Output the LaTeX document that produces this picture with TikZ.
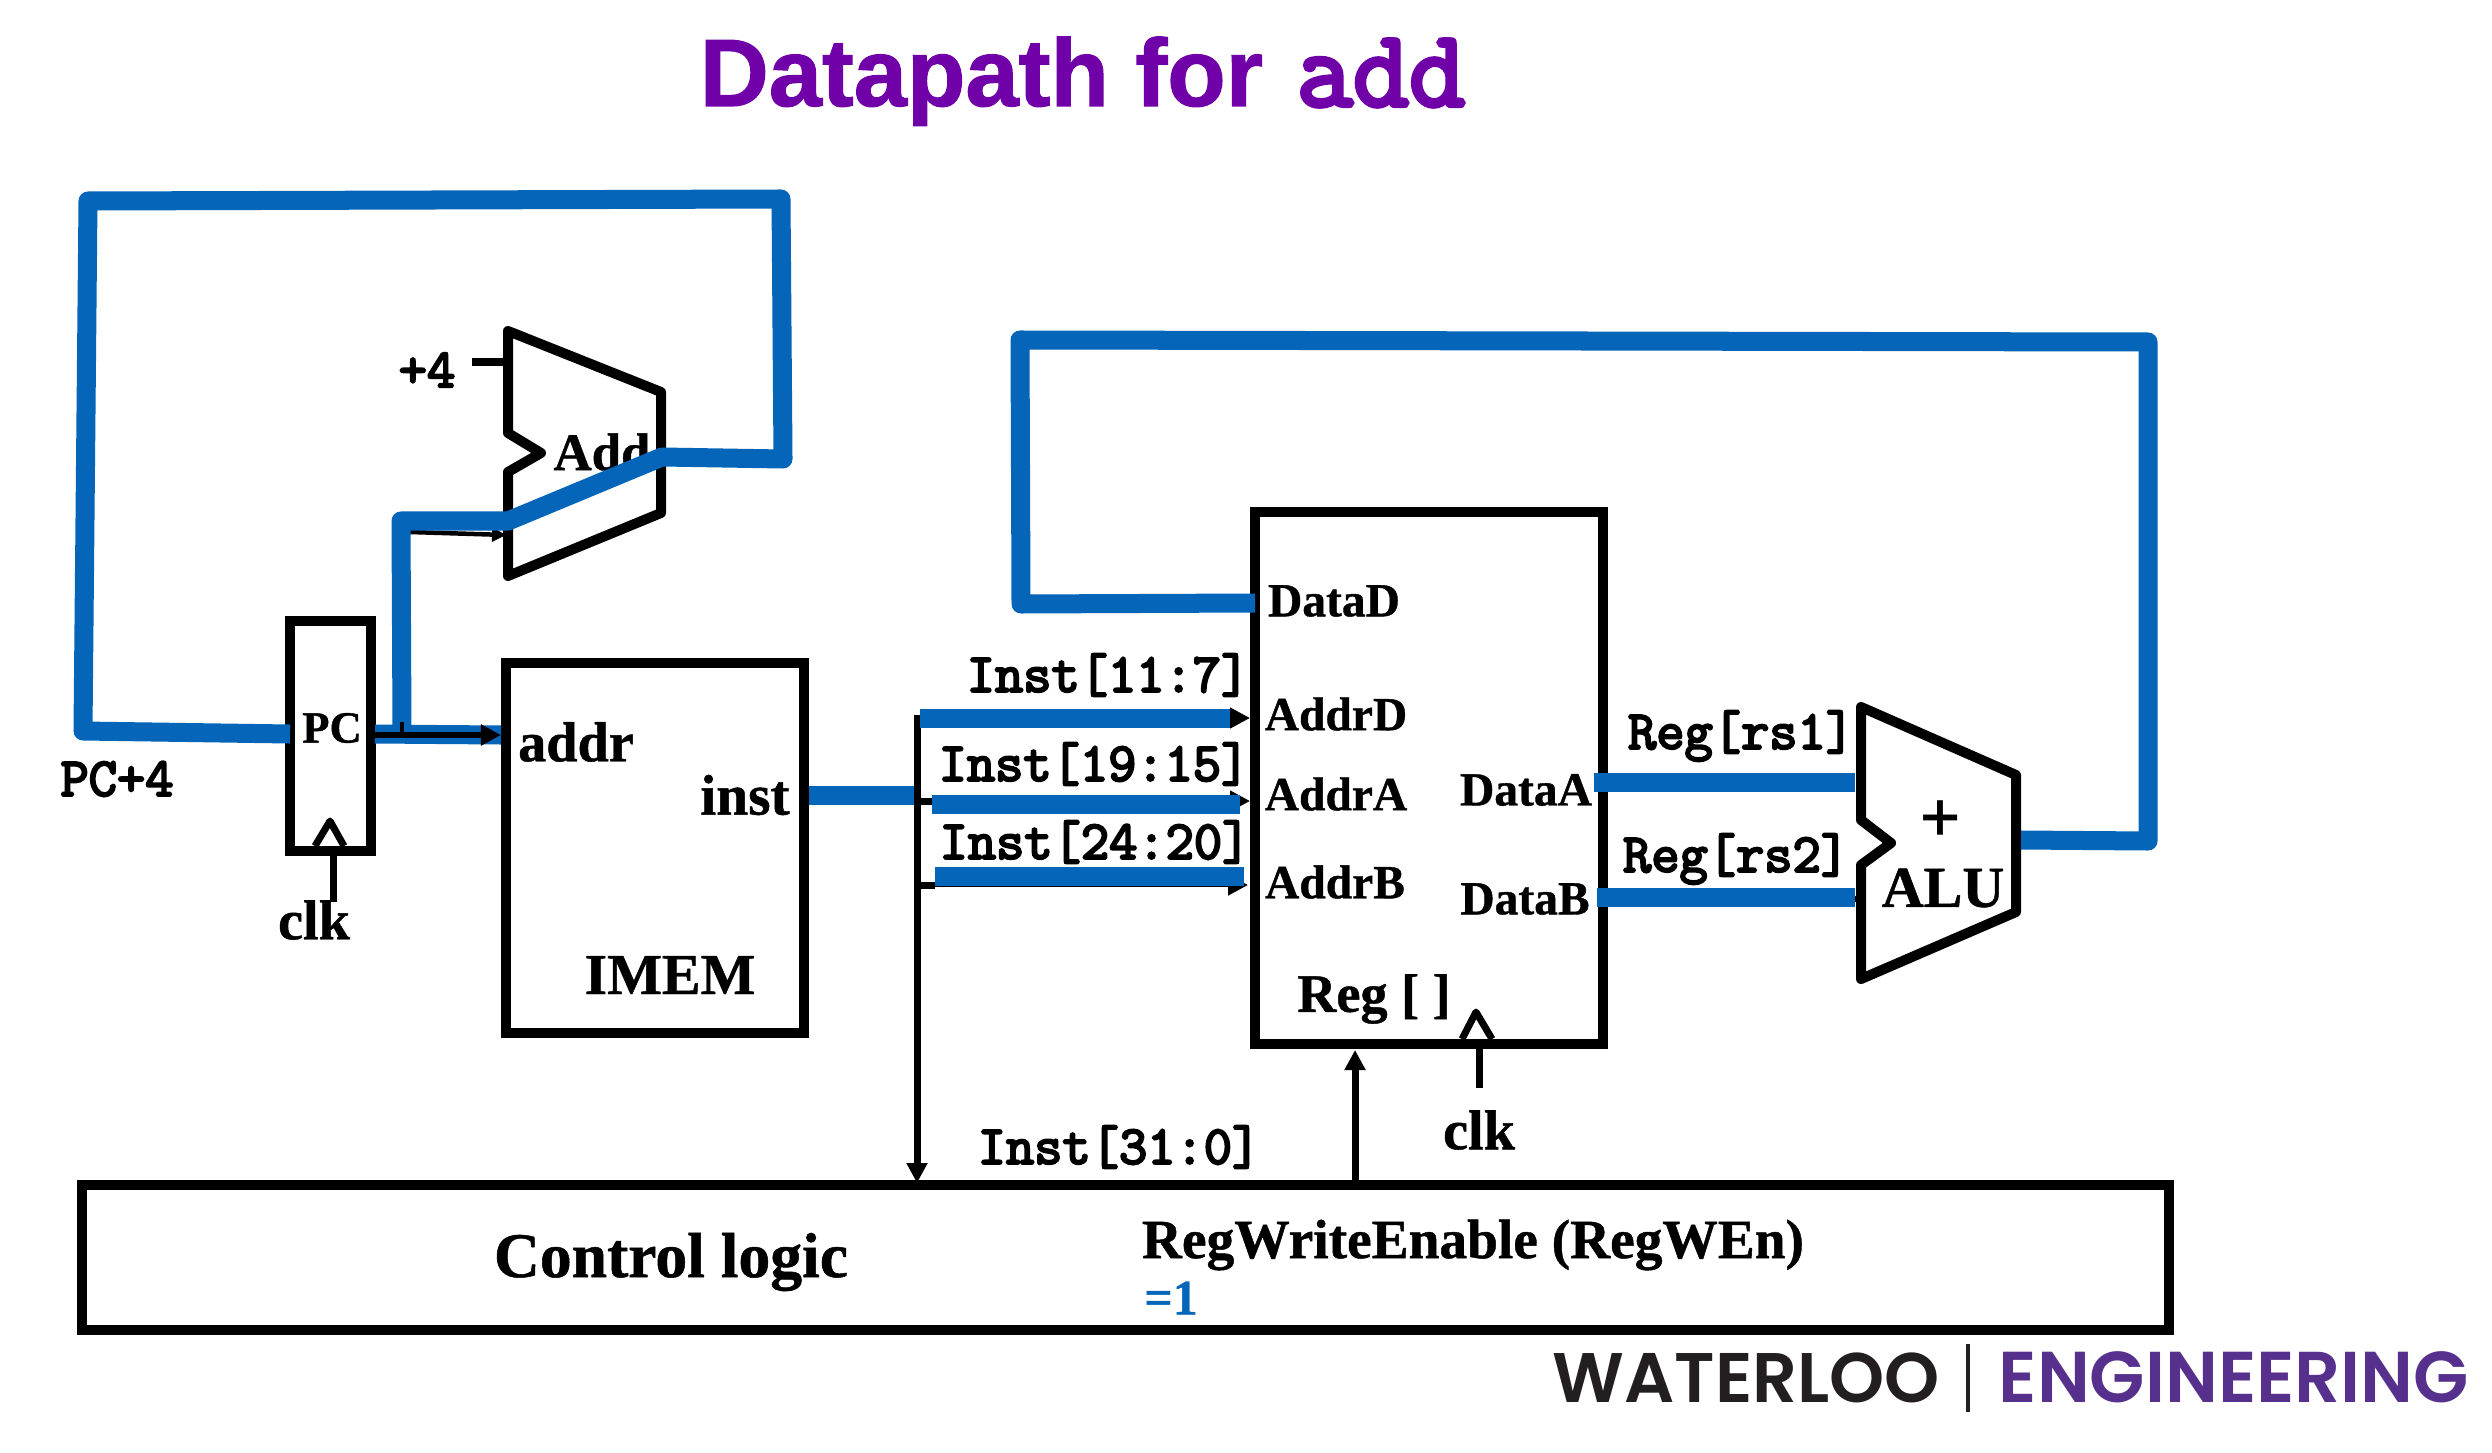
\documentclass[tikz,border=0pt]{standalone}
\usepackage{fontspec}
\setmainfont{Liberation Serif}[BoldFeatures={FakeBold=0.8}]
\newfontfamily\sansf{Liberation Sans}[BoldFeatures={FakeBold=1.2}]
\newfontfamily\monof{Latin Modern Mono}[FakeBold=4]
\newfontfamily\logof{Poppins SemiBold}
\usetikzlibrary{arrows.meta}
\definecolor{wire}{HTML}{0465B9}
\definecolor{titlec}{HTML}{7000A8}
\definecolor{logop}{HTML}{56308C}
\definecolor{logok}{HTML}{231F20}
\tikzset{
  box/.style={draw=black,line width=.1cm,inner sep=0,rectangle},
  shapeline/.style={draw=black,line width=.1cm,line join=round},
  bluewire/.style={draw=wire,line width=.19cm,line join=round},
  blackwire/.style={draw=black,line width=.07cm},
  thinwire/.style={draw=black,line width=.045cm},
  tip/.style={-{Triangle[length=.2cm,width=.2cm]}},
  lab/.style={inner sep=0,font=\fontsize{13.5}{16}\selectfont\bfseries},
  labbig/.style={inner sep=0,font=\fontsize{16}{19}\selectfont\bfseries},
  mono/.style={inner sep=0,font=\monof\fontsize{15.6}{17}\selectfont},
}
\begin{document}
\begin{tikzpicture}[x=.01cm,y=-.01cm]
\useasboundingbox (0,0) rectangle (2492,1452);
% title
\node[inner sep=0,text=titlec,anchor=base west] (title) at (699,106) {\sansf\fontsize{27.2}{32}\selectfont\bfseries Datapath for};
\node[inner sep=0,text=titlec,anchor=base west] (titleb) at (1296,106) {\monof\fontsize{31}{34}\selectfont add};
% blocks
\node[box,minimum width=.80cm,minimum height=2.30cm] (pc) at (330.5,736) {};
\node[inner sep=0,font=\fontsize{12.7}{15}\selectfont\bfseries] (pclab) at (332,728) {PC};
\node[box,minimum width=2.98cm,minimum height=3.69cm] (imem) at (655,848) {};
\node[box,minimum width=3.48cm,minimum height=5.31cm] (reg) at (1429,778) {};
\node[box,minimum width=20.85cm,minimum height=1.45cm] (ctrl) at (1125.5,1257.5) {};
% adder and ALU outlines
\coordinate (a1) at (508,331); \coordinate (a2) at (661,392); \coordinate (a3) at (661,513);
\coordinate (a4) at (508,576); \coordinate (a5) at (508,472); \coordinate (a6) at (541,453);
\coordinate (a7) at (508,433);
\draw[shapeline] (a1)--(a2)--(a3)--(a4)--(a5)--(a6)--(a7)--cycle;
\coordinate (u1) at (1861,707); \coordinate (u2) at (2016,775); \coordinate (u3) at (2016,912);
\coordinate (u4) at (1861,979); \coordinate (u5) at (1861,865); \coordinate (u6) at (1891,843);
\coordinate (u7) at (1861,820);
\draw[shapeline] (u1)--(u2)--(u3)--(u4)--(u5)--(u6)--(u7)--cycle;
% clock triangles
\coordinate (ck1) at (315,846); \coordinate (ck2) at (330,821); \coordinate (ck3) at (344,846);
\draw[shapeline,line width=.07cm] (ck1)--(ck2)--(ck3);
\coordinate (rk1) at (1462,1039); \coordinate (rk2) at (1476,1012); \coordinate (rk3) at (1492,1039);
\draw[shapeline,line width=.07cm] (rk1)--(rk2)--(rk3);
% labels inside blocks
\node[inner sep=0,font=\fontsize{15}{18}\selectfont\bfseries] (addlab) at (602,452) {Add};
\node[labbig] (addr) at (576,742) {addr};
\node[inner sep=0,font=\fontsize{16.3}{19}\selectfont\bfseries] (inst) at (745,795) {inst};
\node[inner sep=0,font=\fontsize{16.5}{19}\selectfont\bfseries] (imemlab) at (670,975) {IMEM};
\node[lab] (datad) at (1334,601) {DataD};
\node[lab] (addrd) at (1336,714) {AddrD};
\node[lab] (addra) at (1336,794) {AddrA};
\node[lab] (addrb) at (1335,882) {AddrB};
\node[lab] (dataa) at (1526,790) {DataA};
\node[lab] (datab) at (1525,899) {DataB};
\node[inner sep=0,font=\fontsize{15.4}{18}\selectfont\bfseries] (reglab) at (1374,999) {Reg [ ]};
\node[inner sep=0,font=\fontsize{16.5}{20}\selectfont\bfseries] (alulab) at (1943,888) {ALU};
\node[inner sep=0,font=\fontsize{20.5}{24}\selectfont\bfseries] (plus) at (1940,821) {+};
\node[inner sep=0,font=\fontsize{18.1}{22}\selectfont\bfseries] (ctrllab) at (671,1262) {Control logic};
\node[inner sep=0,font=\fontsize{15.75}{19}\selectfont\bfseries] (regwen) at (1473,1245) {RegWriteEnable (RegWEn)};
\node[inner sep=0,text=wire,font=\fontsize{14.2}{17}\selectfont\bfseries] (eqone) at (1171,1298) {=1};
\node[labbig] (clka) at (314,920) {clk};
\node[labbig] (clkb) at (1479,1130) {clk};
\node[mono] (four) at (427,370) {+4};
\node[mono] (pc4) at (117,779) {PC+4};
\node[mono] (i1) at (1108,675) {Inst[11:7]};
\node[mono] (i2) at (1094,764) {Inst[19:15]};
\node[mono] (i3) at (1095,842) {Inst[24:20]};
\node[mono] (i4) at (1119,1147) {Inst[31:0]};
\node[mono] (r1) at (1741,736) {Reg[rs1]};
\node[mono] (r2) at (1736,859) {Reg[rs2]};
% thin and black connectors
\coordinate (fourin) at (472,362); \coordinate (fourend) at (508,362);
\draw[blackwire] (fourin)--(fourend);
\coordinate (cka) at (333,856); \coordinate (ckb) at (333,902);
\draw[blackwire] (ckb)--(cka);
\coordinate (rka) at (1479,1048); \coordinate (rkb) at (1479,1088);
\draw[blackwire] (rkb)--(rka);
\coordinate (pcin) at (290,734); \coordinate (pcout) at (371,735); \coordinate (addrin) at (501,735);
\coordinate (addin0) at (410,532); \coordinate (addin1) at (506,535);
\draw[thinwire,-{Triangle[length=.14cm,width=.14cm]}] (addin0)--(addin1);
\coordinate (busT) at (917,715); \coordinate (busB) at (917,1183);
\draw[blackwire,tip] (busT)--(busB);
\coordinate (enA) at (1355,1181); \coordinate (enB) at (1355,1050);
\draw[blackwire,tip] (enA)--(enB);
% decode wires
\coordinate (dIn) at (1250,718); \coordinate (dS) at (920,718); \coordinate (dE) at (1230,718);
\coordinate (aS) at (917,801); \coordinate (aT) at (1250,801); \coordinate (aBs) at (932,804); \coordinate (aBe) at (1240,804);
\coordinate (bS) at (917,885); \coordinate (bT) at (1248,885); \coordinate (bBs) at (935,876); \coordinate (bBe) at (1244,876);
\draw[thinwire,{Triangle[length=.2cm,width=.2cm]}-] (dIn)--(dE);
\draw[thinwire,tip] (aS)--(aT);
\draw[blackwire] (aS)--(aBs|-aS);
\draw[thinwire,tip] (bS)--(bT);
\draw[blackwire] (bS)--(bBs|-bS);
\coordinate (rs2S) at (1800,899); \coordinate (rs2T) at (1861,899);
\draw[thinwire,-{Triangle[length=.14cm,width=.14cm]}] (rs2S)--(rs2T);
% blue wires
\coordinate (l1) at (83,731); \coordinate (l2) at (88,201); \coordinate (l3) at (781,199);
\coordinate (l4) at (783,459); \coordinate (l5) at (662,457); \coordinate (l6) at (508,521);
\coordinate (l7) at (401,521); \coordinate (l8) at (402,731);
\draw[bluewire] (pcin)--(l1)--(l2)--(l3)--(l4)--(l5)--(l6)--(l7)--(l8);
\coordinate (pcoutb) at (375,734);
\draw[bluewire] (pcoutb)--(addrin);
\draw[thinwire,line width=.06cm,-{Triangle[length=.2cm,width=.2cm]}] (pcout)--(addrin);
\coordinate (tk1) at (402,722); \coordinate (tk2) at (402,735);
\draw[thinwire,line width=.04cm] (tk1)--(tk2);
\coordinate (instOut) at (809,795); \coordinate (instBus) at (914,795);
\draw[bluewire] (instOut)--(instBus);
\draw[bluewire] (dS)--(dE);
\draw[bluewire] (aBs)--(aBe);
\draw[bluewire] (bBs)--(bBe);
\coordinate (daS) at (1594,782); \coordinate (daE) at (1855,782);
\coordinate (dbS) at (1597,897); \coordinate (dbE) at (1855,897);
\draw[bluewire] (daS)--(daE);
\draw[bluewire] (dbS)--(dbE);
\coordinate (w1) at (2021,840); \coordinate (w2) at (2148,841);
\coordinate (w3b) at (2148,342);
\coordinate (w4) at (1020,340); \coordinate (w5) at (1021,604); \coordinate (w6) at (1255,603);
\draw[bluewire] (w1)--(w2)--(w3b)--(w4)--(w5)--(w6);
% logo
\node[inner sep=0,anchor=base west,text=logok] (w) at (1552,1402) {\resizebox{3.87cm}{!}{\logof\fontsize{18}{20}\selectfont WATERLOO}};
\node[inner sep=0,anchor=base west,text=logop] (e) at (1998,1402) {\resizebox{4.70cm}{!}{\logof\fontsize{18}{20}\selectfont ENGINEERING}};
\coordinate (bar1) at (1968,1344); \coordinate (bar2) at (1968,1412);
\draw[draw=logok,line width=.035cm] (bar1)--(bar2);
\end{tikzpicture}
\end{document}
